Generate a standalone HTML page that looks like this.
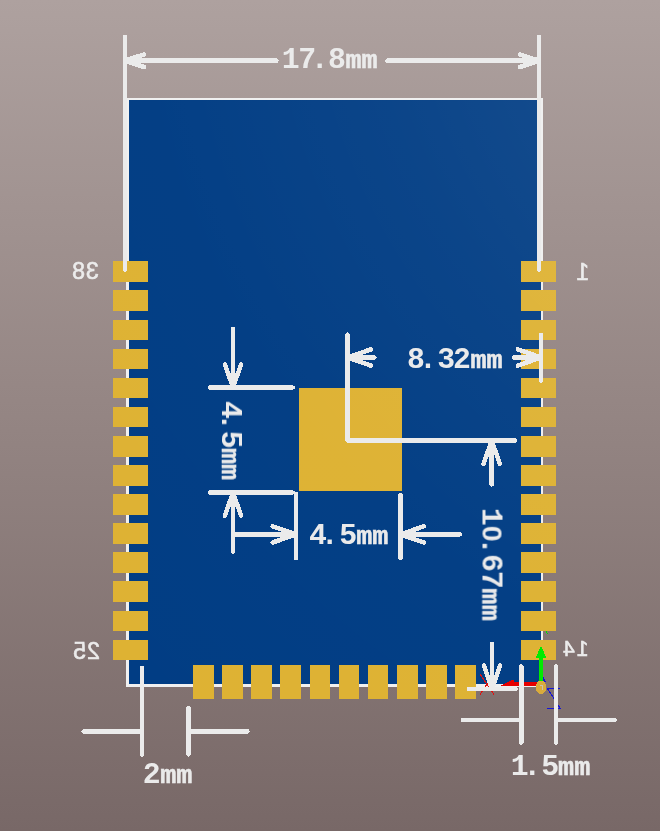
<!DOCTYPE html>
<html lang="en">
<head>
<meta charset="utf-8">
<title>Footprint dimensions</title>
<style>
html,body{margin:0;padding:0;background:#857474;}
body{width:660px;height:831px;overflow:hidden;}
svg{display:block;}
.d{font-family:"Liberation Mono","DejaVu Sans Mono",monospace;font-weight:bold;font-size:29px;fill:#ebebeb;}
.m{font-size:26px;stroke:#ebebeb;stroke-width:0.5px;}
.z{font-family:"Liberation Sans","DejaVu Sans",sans-serif;font-size:27.6px;}
.p{font-family:"Liberation Sans","DejaVu Sans",sans-serif;font-size:22.6px;fill:#ececec;stroke:#ececec;stroke-width:0.6px;}
.l{stroke:#ebebeb;stroke-width:4.5;stroke-linecap:round;stroke-linejoin:round;fill:none;}
</style>
</head>
<body>
<svg width="660" height="831" viewBox="0 0 660 831">
<defs>
<linearGradient id="bg" x1="0" y1="0" x2="0" y2="1">
<stop offset="0" stop-color="#aea19f"/>
<stop offset="0.5" stop-color="#948583"/>
<stop offset="1" stop-color="#786867"/>
</linearGradient>
<radialGradient id="hl" gradientUnits="userSpaceOnUse" cx="910" cy="-60" r="1100">
<stop offset="0.33" stop-color="#fff" stop-opacity="0.075"/>
<stop offset="0.5" stop-color="#fff" stop-opacity="0.04"/>
<stop offset="0.7" stop-color="#fff" stop-opacity="0.012"/>
<stop offset="1" stop-color="#fff" stop-opacity="0"/>
</radialGradient>
</defs>
<rect width="660" height="831" fill="url(#bg)"/>

<g shape-rendering="crispEdges">
<rect x="126" y="98" width="417" height="589" rx="2" fill="#f0f0f0"/>
<rect x="129" y="100" width="412" height="584" fill="#013d84"/>
<g fill="#deb233"><rect x="113" y="261" width="35" height="21"/><rect x="521" y="261" width="35" height="21"/><rect x="113" y="290" width="35" height="21"/><rect x="521" y="290" width="35" height="21"/><rect x="113" y="320" width="35" height="20"/><rect x="521" y="320" width="35" height="20"/><rect x="113" y="349" width="35" height="20"/><rect x="521" y="349" width="35" height="20"/><rect x="113" y="378" width="35" height="20"/><rect x="521" y="378" width="35" height="20"/><rect x="113" y="407" width="35" height="20"/><rect x="521" y="407" width="35" height="20"/><rect x="113" y="436" width="35" height="21"/><rect x="521" y="436" width="35" height="21"/><rect x="113" y="465" width="35" height="21"/><rect x="521" y="465" width="35" height="21"/><rect x="113" y="494" width="35" height="21"/><rect x="521" y="494" width="35" height="21"/><rect x="113" y="523" width="35" height="21"/><rect x="521" y="523" width="35" height="21"/><rect x="113" y="552" width="35" height="21"/><rect x="521" y="552" width="35" height="21"/><rect x="113" y="581" width="35" height="21"/><rect x="521" y="581" width="35" height="21"/><rect x="113" y="611" width="35" height="20"/><rect x="521" y="611" width="35" height="20"/><rect x="113" y="640" width="35" height="20"/><rect x="521" y="640" width="35" height="20"/><rect x="193" y="665" width="21" height="34"/><rect x="222" y="665" width="21" height="34"/><rect x="251" y="665" width="21" height="34"/><rect x="280" y="665" width="21" height="34"/><rect x="310" y="665" width="20" height="34"/><rect x="339" y="665" width="20" height="34"/><rect x="368" y="665" width="20" height="34"/><rect x="397" y="665" width="21" height="34"/><rect x="426" y="665" width="21" height="34"/><rect x="455" y="665" width="21" height="34"/><rect x="299" y="388" width="103" height="103"/></g>
<clipPath id="cp"><rect x="129" y="100" width="412" height="584"/><rect x="113" y="261" width="35" height="21"/><rect x="521" y="261" width="35" height="21"/><rect x="113" y="290" width="35" height="21"/><rect x="521" y="290" width="35" height="21"/><rect x="113" y="320" width="35" height="20"/><rect x="521" y="320" width="35" height="20"/><rect x="113" y="349" width="35" height="20"/><rect x="521" y="349" width="35" height="20"/><rect x="113" y="378" width="35" height="20"/><rect x="521" y="378" width="35" height="20"/><rect x="113" y="407" width="35" height="20"/><rect x="521" y="407" width="35" height="20"/><rect x="113" y="436" width="35" height="21"/><rect x="521" y="436" width="35" height="21"/><rect x="113" y="465" width="35" height="21"/><rect x="521" y="465" width="35" height="21"/><rect x="113" y="494" width="35" height="21"/><rect x="521" y="494" width="35" height="21"/><rect x="113" y="523" width="35" height="21"/><rect x="521" y="523" width="35" height="21"/><rect x="113" y="552" width="35" height="21"/><rect x="521" y="552" width="35" height="21"/><rect x="113" y="581" width="35" height="21"/><rect x="521" y="581" width="35" height="21"/><rect x="113" y="611" width="35" height="20"/><rect x="521" y="611" width="35" height="20"/><rect x="113" y="640" width="35" height="20"/><rect x="521" y="640" width="35" height="20"/><rect x="193" y="665" width="21" height="34"/><rect x="222" y="665" width="21" height="34"/><rect x="251" y="665" width="21" height="34"/><rect x="280" y="665" width="21" height="34"/><rect x="310" y="665" width="20" height="34"/><rect x="339" y="665" width="20" height="34"/><rect x="368" y="665" width="20" height="34"/><rect x="397" y="665" width="21" height="34"/><rect x="426" y="665" width="21" height="34"/><rect x="455" y="665" width="21" height="34"/><rect x="299" y="388" width="103" height="103"/></clipPath>
<rect x="113" y="100" width="443" height="599" fill="url(#hl)" clip-path="url(#cp)"/>
</g>
<g shape-rendering="crispEdges">
<path d="M547 688.5H560M547.5 688.5L560.3 708.5M547 708.5H560.5" stroke="#1414d8" stroke-width="1.2" fill="none"/>
<path d="M480 674L494 694.5M494 674L480 694.5" stroke="#e01010" stroke-width="1.1" fill="none"/>
<path d="M501 685.5L512 680H514V682H538V686H501Z" fill="#e60000"/>
<rect x="539" y="657" width="4" height="25" fill="#00ea00"/>
<path d="M541 645.5L546.3 658H535.7Z" fill="#00ea00"/>
<path d="M543 676.5L546 682H543Z" fill="#1414d8"/>
<path d="M546 631.5L547.6 634" stroke="#00e000" stroke-width="1.1" fill="none"/>
<ellipse cx="541" cy="687.2" rx="5.4" ry="6.8" fill="#d9ab3c"/>
<path d="M539.5 685.5h3v4" stroke="#c9c2b0" stroke-width="1.2" fill="none"/>
</g>
<g class="l" shape-rendering="crispEdges"><path d="M125 37.2L125 269.6"/><path d="M539 37.2L539 269.6"/><path d="M125 60.7L276.5 60.7M144.0 67.0L125 60.7L144.0 54.4"/><path d="M539 60.7L387.4 60.7M520.0 54.4L539 60.7L520.0 67.0"/><path d="M347.5 334.6V440.5H514.8"/><path d="M541 334.7L541 380.5"/><path d="M347.5 357.5L374.5 357.5M370.8 365.6L347.5 357.5L370.8 349.4"/><path d="M541 357.5L514.0 357.5M517.7 349.4L541 357.5L517.7 365.6"/><path d="M210 387.5L292.7 387.5"/><path d="M210 492.5L292.7 492.5"/><path d="M233 387.5L233.0 329.1M241.1 364.2L233 387.5L224.9 364.2"/><path d="M233 492.5L233.0 551.5M224.9 515.8L233 492.5L241.1 515.8"/><path d="M296 494.2L296 557.8"/><path d="M400.5 495L400.5 558"/><path d="M296 534.4L233.0 534.4M272.7 526.3L296 534.4L272.7 542.5"/><path d="M400.5 534.4L459.9 534.4M423.8 542.5L400.5 534.4L423.8 526.3"/><path d="M491.7 440.5L491.7 484.5M483.6 463.8L491.7 440.5L499.8 463.8"/><path d="M492 688.8L492.0 644.1M500.1 665.5L492 688.8L483.9 665.5"/><path d="M469 688.9L515.5 688.9"/><path d="M142 668L142 754.5"/><path d="M188.5 708L188.5 754.5"/><path d="M83.7 731.4L142 731.4"/><path d="M188.5 731.4L247.5 731.4"/><path d="M521.3 666.4L521.3 742.6"/><path d="M556 666.4L556 742.6"/><path d="M462.6 720L521.3 720"/><path d="M556 720L614.7 720"/></g>
<g opacity="0.999">
<text class="d" aria-label="17.8mm" transform="translate(0 67.7) scale(1.03 1)" x="273.61 289.64 301.74 318.53 335.34 351.02" y="0">17.8<tspan class="m">mm</tspan></text>
<text class="d" aria-label="8.32mm" transform="translate(0 367.7) scale(1.03 1)" x="395.08 406.78 424.53 439.87 456.70 472.38" y="0">8.32<tspan class="m">mm</tspan></text>
<text class="d" aria-label="4.5mm" transform="translate(0 544) scale(1.03 1)" x="299.92 311.44 329.37 345.93 361.51" y="0">4.5<tspan class="m">mm</tspan></text>
<text class="d" aria-label="4.5mm" transform="translate(222 0) rotate(90) scale(1.03 1)" x="389.24 401.01 418.06 434.91 450.44" y="0">4.5<tspan class="m">mm</tspan></text>
<text class="d" aria-label="10.67mm" transform="translate(482.5 0) rotate(90) scale(1.03 1)" x="493.07 510.45 521.35 537.97 554.06 571.27 587.29" y="0">1<tspan class="z">0</tspan>.67<tspan class="m">mm</tspan></text>
<text class="d" aria-label="2mm" transform="translate(0 782.7) scale(1.03 1)" x="138.70 155.54 171.22" y="0">2<tspan class="m">mm</tspan></text>
<text class="d" aria-label="1.5mm" transform="translate(0 775) scale(1.03 1)" x="495.79 507.95 525.44 541.85 557.53" y="0">1.5<tspan class="m">mm</tspan></text>
<text class="p" transform="scale(-1 1)" x="-98.7 -85.1" y="279.1" style="font-size:23.2px">38</text>
<text class="p" transform="scale(-1 1)" x="-99.9 -86.0" y="658.9" style="font-size:23.2px">25</text>
<text class="p" transform="scale(-1 1)" x="-589.2" y="280" style="font-size:23.2px">1</text>
<text class="p" transform="scale(-1 1)" x="-588.6 -574.7" y="656.1" style="font-size:21.2px">14</text>
</g>
</svg>
</body>
</html>
